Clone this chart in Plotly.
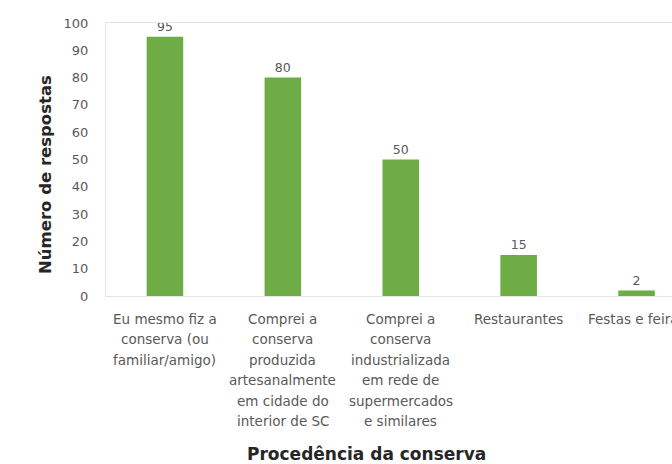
import plotly.graph_objects as go

categories = ["Eu mesmo fiz a conserva (ou familiar/amigo)",
              "Comprei a conserva produzida artesanalmente em cidade do interior de SC",
              "Comprei a conserva industrializada em rede de supermercados e similares",
              "Restaurantes",
              "Festas e feiras"]
label_lines = [
    ["Eu mesmo fiz a", "conserva (ou", "familiar/amigo)"],
    ["Comprei a", "conserva", "produzida", "artesanalmente", "em cidade do", "interior de SC"],
    ["Comprei a", "conserva", "industrializada", "em rede de", "supermercados", "e similares"],
    ["Restaurantes"],
    ["Festas e feiras"],
]
values = [95, 80, 50, 15, 2]
y_ticks = [0, 10, 20, 30, 40, 50, 60, 70, 80, 90, 100]

GREEN = "#6EAD45"
GRAY = "#595959"
FONT = "DejaVu Sans"

fig = go.Figure(go.Bar(
    x=list(range(len(categories))), y=values,
    marker=dict(color=GREEN, line=dict(width=0)),
    text=[str(v) for v in values], textposition="outside",
    textfont=dict(family=FONT, size=12.5, color=GRAY),
    cliponaxis=False, hoverinfo="skip",
))

annotations = []
for i, lines in enumerate(label_lines):
    for j, line in enumerate(lines):
        annotations.append(dict(
            x=i, y=0, xref="x", yref="y", text=line, showarrow=False,
            xanchor="center", yanchor="middle", yshift=-(23 + j * 20.4),
            font=dict(family=FONT, size=13.5, color=GRAY),
        ))
annotations.append(dict(
    x=366, y=454, xref="paper", yref="paper", text="<b>Procedência da conserva</b>",
    showarrow=False, xanchor="center", yanchor="middle",
    font=dict(family=FONT, size=17, color="#262626"),
))
annotations.append(dict(
    x=45, y=175, xref="paper", yref="paper", text="<b>Número de respostas</b>",
    showarrow=False, textangle=-90, xanchor="center", yanchor="middle",
    font=dict(family=FONT, size=16.5, color="#262626"),
))

# convert pixel positions for titles into paper coordinates
W, H = 672, 464
L, R, T, B = 106, 0, 23, 168
pw, ph = W - L - R, H - T - B
for a in annotations[-2:]:
    a["x"] = (a["x"] - L) / pw
    a["y"] = 1 - (a["y"] - T) / ph

fig.update_layout(
    width=W, height=H,
    margin=dict(l=L, r=R, t=T, b=B),
    paper_bgcolor="white", plot_bgcolor="white",
    bargap=0.69, showlegend=False,
    annotations=annotations,
    xaxis=dict(range=[-0.5, (W - L) / 117.9 - 0.5], showticklabels=False, ticks="",
               showgrid=False, zeroline=False, showline=True, linecolor="#E3E3E3",
               linewidth=1, mirror=True, fixedrange=True),
    yaxis=dict(range=[0, 100], tickvals=y_ticks, showgrid=False, zeroline=False,
               showline=True, linecolor="#EBEBEB", linewidth=1, mirror=True,
               tickfont=dict(family=FONT, size=13, color=GRAY), ticks="",
               ticklabelstandoff=14, fixedrange=True),
)

fig.write_html("out.html")
